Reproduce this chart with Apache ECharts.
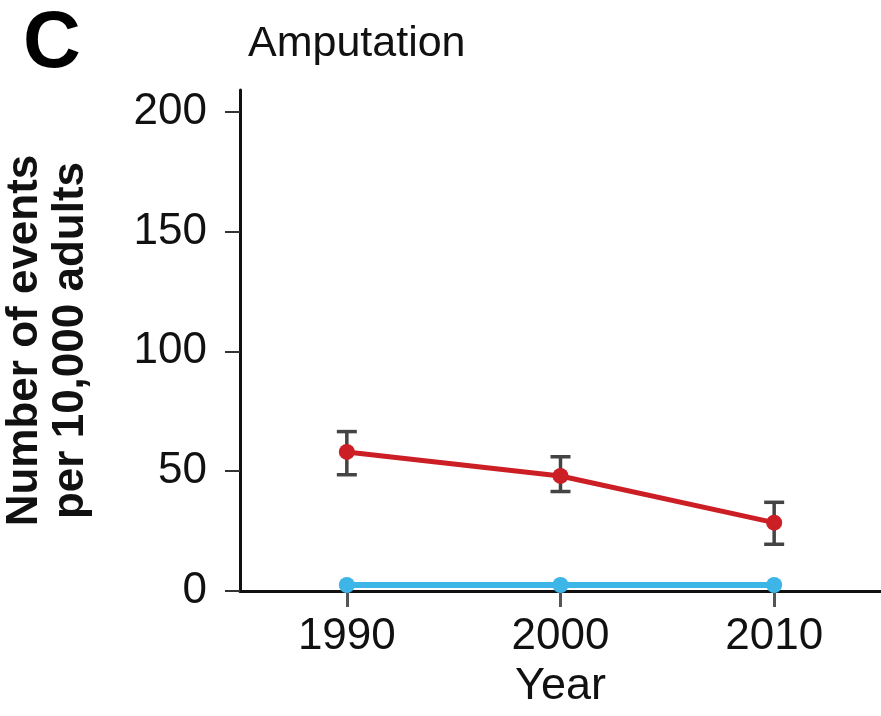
<!DOCTYPE html>
<html>
<head>
<meta charset="utf-8">
<script src="https://cdn.jsdelivr.net/npm/echarts@6/dist/echarts.min.js"></script>
<style>
  html, body { margin: 0; padding: 0; background: #fff; }
  #chart { width: 881px; height: 716px; }
</style>
</head>
<body>
<div id="chart"></div>
<script>
// data
const years = [1990, 2000, 2010]
const redMean = [58, 48, 28.5]
const redLow = [48.5, 41.5, 19.5]
const redHigh = [66.5, 56, 37]
const blueMean = [2.5, 2.5, 2.5]
const yTicks = [0, 50, 100, 150, 200]

const chart = echarts.init(document.getElementById('chart'))

const font = 'Liberation Sans, Arial, sans-serif'

// error bar drawing
const renderErr = (params, api) => {
  const x = api.value(0)
  const lo = api.coord([x, api.value(1)])
  const hi = api.coord([x, api.value(2)])
  const half = 10
  const style = { stroke: '#444', lineWidth: 3.5 }
  return {
    type: 'group',
    children: [
      { type: 'line', shape: { x1: lo[0], y1: lo[1], x2: hi[0], y2: hi[1] }, style },
      { type: 'line', shape: { x1: lo[0] - half, y1: lo[1], x2: lo[0] + half, y2: lo[1] }, style },
      { type: 'line', shape: { x1: hi[0] - half, y1: hi[1], x2: hi[0] + half, y2: hi[1] }, style }
    ]
  }
}

const option = {
  animation: false,
  backgroundColor: '#fff',
  title: [
    {
      text: 'C',
      left: 18,
      top: 0,
      textStyle: { fontFamily: font, fontSize: 80, fontWeight: 'bold', color: '#000' }
    },
    {
      text: 'Amputation',
      left: 243,
      top: 18,
      textStyle: { fontFamily: font, fontSize: 43, fontWeight: 'normal', color: '#111' }
    }
  ],
  grid: { left: 240, right: 0, top: 90, bottom: 125, outerBoundsMode: 'none' },
  xAxis: {
    type: 'value',
    min: 1985,
    max: 2015,
    name: 'Year',
    nameLocation: 'middle',
    nameGap: 72,
    nameTextStyle: { fontFamily: font, fontSize: 45, color: '#111' },
    axisLine: { lineStyle: { color: '#111', width: 3 } },
    axisTick: { customValues: years, length: 16, lineStyle: { color: '#555', width: 3 } },
    axisLabel: {
      customValues: years,
      formatter: (v) => String(v),
      fontFamily: font,
      fontSize: 44,
      color: '#111',
      margin: 24
    },
    splitLine: { show: false }
  },
  yAxis: {
    type: 'value',
    min: 0,
    max: 209,
    name: 'Number of events\nper 10,000 adults',
    nameLocation: 'middle',
    nameRotate: 90,
    nameGap: 146,
    nameTextStyle: { fontFamily: font, fontSize: 44, fontWeight: 'bold', color: '#111', lineHeight: 46 },
    axisLine: { show: true, lineStyle: { color: '#111', width: 3 } },
    axisTick: { customValues: yTicks, length: 15, lineStyle: { color: '#333', width: 2 } },
    axisLabel: {
      customValues: yTicks,
      fontFamily: font,
      fontSize: 44,
      color: '#111',
      margin: 33
    },
    splitLine: { show: false }
  },
  series: [
    {
      type: 'line',
      data: years.map((y, i) => [y, blueMean[i]]),
      symbol: 'circle',
      symbolSize: 16,
      lineStyle: { color: '#3db5e6', width: 6 },
      itemStyle: { color: '#3db5e6' },
      z: 3
    },
    {
      type: 'custom',
      renderItem: renderErr,
      data: years.map((y, i) => [y, redLow[i], redHigh[i]]),
      z: 4
    },
    {
      type: 'line',
      data: years.map((y, i) => [y, redMean[i]]),
      symbol: 'circle',
      symbolSize: 16,
      lineStyle: { color: '#cc1f25', width: 5 },
      itemStyle: { color: '#cc1f25' },
      z: 5
    }
  ]
}

chart.setOption(option)
</script>
</body>
</html>
